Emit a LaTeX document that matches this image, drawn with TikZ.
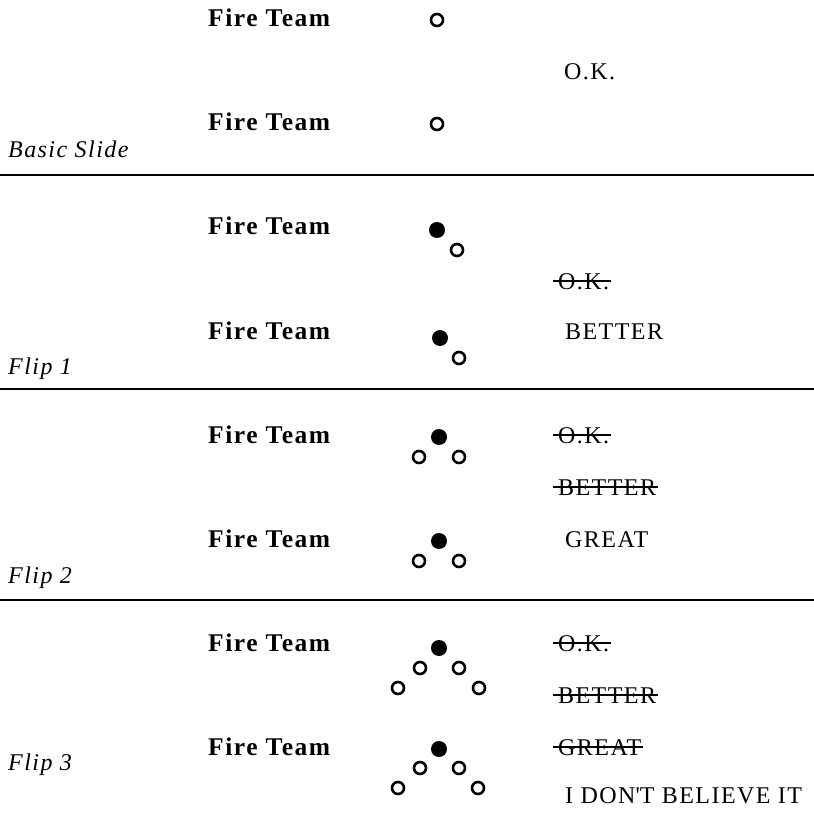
\documentclass[tikz,border=0pt]{standalone}
\usepackage{fontspec}
\setmainfont{Liberation Serif}[LetterSpace=6]
\usetikzlibrary{positioning}

\begin{document}
\begin{tikzpicture}[
  x=1pt, y=-1pt,
  every node/.style={inner sep=0pt, anchor=base west},
  team/.style={font=\fontsize{25.5}{29}\selectfont\bfseries},
  slide/.style={font=\fontsize{24}{28}\selectfont\itshape},
  rating/.style={font=\fontsize{24}{28}\selectfont},
  open/.style={circle, draw, line width=2.6pt, minimum size=12pt, anchor=center},
  man/.style={circle, fill, minimum size=16pt, anchor=center},
  strike/.style={line width=2.2pt},
  sep/.style={line width=2.8pt}
]
\useasboundingbox (0,0) rectangle (814,813);

% basic slide
\node[team] (t1) at (208,27)  {Fire Team};
\node[team] (t2) at (208,131) {Fire Team};
\node[slide] (l1) at (8,158) {Basic Slide};
\node[open] (a1) at (437,20)  {};
\node[open] (a2) at (437,124) {};
\node[rating] (r1) at (564,80) {O.K.};
\draw[sep] (0,175) -- (814,175);

% flip 1
\node[team] (t3) at (208,235) {Fire Team};
\node[team] (t4) at (208,339) {Fire Team};
\node[slide] (l2) at (8,374) {Flip 1};
\node[man]  (b1) at (437,230) {};
\node[open] (b2) at (457,250) {};
\node[man]  (b3) at (440,338) {};
\node[open] (b4) at (459,358) {};
\node[rating] (r2) at (558,289) {O.K.};
\node[rating] (r3) at (565,339) {BETTER};
\draw[strike] ([xshift=-5pt,yshift=8pt]r2.base west) -- ([xshift=2pt,yshift=8pt]r2.base east);
\draw[sep] (0,389) -- (814,389);

% flip 2
\node[team] (t5) at (208,443) {Fire Team};
\node[team] (t6) at (208,547) {Fire Team};
\node[slide] (l3) at (8,583) {Flip 2};
\node[man]  (c1) at (439,437) {};
\node[open] (c2) at (419,457) {};
\node[open] (c3) at (459,457) {};
\node[man]  (c4) at (439,541) {};
\node[open] (c5) at (419,561) {};
\node[open] (c6) at (459,561) {};
\node[rating] (r4) at (558,443) {O.K.};
\node[rating] (r5) at (558,495) {BETTER};
\node[rating] (r6) at (565,547) {GREAT};
\draw[strike] ([xshift=-5pt,yshift=8pt]r4.base west) -- ([xshift=2pt,yshift=8pt]r4.base east);
\draw[strike] ([xshift=-5pt,yshift=8pt]r5.base west) -- ([xshift=2pt,yshift=8pt]r5.base east);
\draw[sep] (0,600) -- (814,600);

% flip 3
\node[team] (t7) at (208,651) {Fire Team};
\node[team] (t8) at (208,755) {Fire Team};
\node[slide] (l4) at (8,770) {Flip 3};
\node[man]  (d1) at (439,648) {};
\node[open] (d2) at (420,668) {};
\node[open] (d3) at (459,668) {};
\node[open] (d4) at (398,688) {};
\node[open] (d5) at (479,688) {};
\node[man]  (d6) at (439,749) {};
\node[open] (d7) at (420,768) {};
\node[open] (d8) at (459,768) {};
\node[open] (d9) at (398,788) {};
\node[open] (d10) at (478,788) {};
\node[rating] (r7) at (558,651) {O.K.};
\node[rating] (r8) at (558,703) {BETTER};
\node[rating] (r9) at (558,755) {GREAT};
\node[rating] (r10) at (565,803) {I DON\textquotesingle T BELIEVE IT};
\draw[strike] ([xshift=-5pt,yshift=8pt]r7.base west) -- ([xshift=2pt,yshift=8pt]r7.base east);
\draw[strike] ([xshift=-5pt,yshift=8pt]r8.base west) -- ([xshift=2pt,yshift=8pt]r8.base east);
\draw[strike] ([xshift=-5pt,yshift=8pt]r9.base west) -- ([xshift=2pt,yshift=8pt]r9.base east);
\end{tikzpicture}
\end{document}
